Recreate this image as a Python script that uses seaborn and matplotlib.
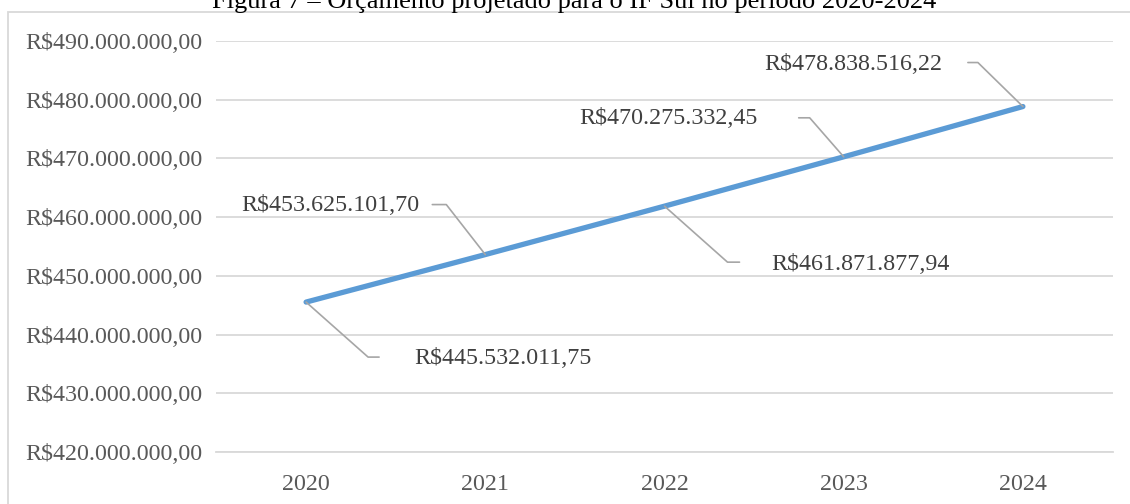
import matplotlib
matplotlib.use("Agg")
import matplotlib.pyplot as plt
import matplotlib.patches as patches
from matplotlib.ticker import FuncFormatter, MultipleLocator
from matplotlib.lines import Line2D
import pandas as pd
import seaborn as sns

# dados do gráfico
anos = ["2020", "2021", "2022", "2023", "2024"]
orcamento = [445532011.75, 453625101.70, 461871877.94, 470275332.45, 478838516.22]
titulo = "Figura 7 – Orçamento projetado para o IF Sul no período 2020-2024"

# deslocamentos dos rótulos (pixels: cotovelo, fim da linha guia, texto, alinhamento)
guias = [
    ((62, -55), (73, -55), (108, -56), "left"),
    ((-39, 50), (-53, 50), (-66, 49), "right"),
    ((63, -56), (75, -56), (107, -58), "left"),
    ((-34, 39), (-45, 39), (-86, 38), "right"),
    ((-45, 44), (-55, 44), (-81, 42), "right"),
]


def moeda(v, pos=None):
    s = f"{v:,.2f}"
    s = s.replace(",", "X").replace(".", ",").replace("X", ".")
    return "R$" + s


sns.set_theme(style="white")
plt.rcParams["font.family"] = ["Liberation Serif", "DejaVu Serif"]

W, H = 1130, 504
fs = 17.3
fig = plt.figure(figsize=(W / 100, H / 100), dpi=100)
ax = fig.add_axes([216.5 / W, 1 - 452 / H, 896 / W, 411 / H])

df = pd.DataFrame({"ano": anos, "valor": orcamento})
sns.lineplot(data=df, x="ano", y="valor", ax=ax, color="#5B9BD5",
             linewidth=3.8, solid_capstyle="round", sort=False)

ax.set_xlim(-0.5, len(anos) - 0.5)
ax.set_ylim(420e6, 490e6)
ax.yaxis.set_major_locator(MultipleLocator(10e6))
ax.yaxis.set_major_formatter(FuncFormatter(moeda))
ax.grid(axis="y", color="#d9d9d9", linewidth=1.3)
ax.grid(axis="x", visible=False)
ax.set_axisbelow(True)
for lado in ["top", "right", "left"]:
    ax.spines[lado].set_visible(False)
ax.spines["bottom"].set_color("#d9d9d9")
ax.spines["bottom"].set_linewidth(1.3)
ax.set_xlabel("")
ax.set_ylabel("")
ax.tick_params(axis="y", length=0, pad=10, labelsize=fs, labelcolor="#595959")
ax.tick_params(axis="x", length=0, pad=16, labelsize=fs, labelcolor="#595959")

# rótulos com linhas guia
fig.canvas.draw()
for i, (v, (cot, fim, txt, ha)) in enumerate(zip(orcamento, guias)):
    px, py = ax.transData.transform((i, v))
    xs = [px, px + cot[0], px + fim[0]]
    ys = [py, py + cot[1], py + fim[1]]
    fig.add_artist(Line2D(xs, ys, transform=None, color="#a6a6a6", linewidth=1.2))
    fig.text((px + txt[0]) / W, (py + txt[1]) / H, moeda(v), ha=ha, va="center",
             fontsize=fs, color="#404040")

# moldura e título
fig.add_artist(patches.Rectangle((8 / W, -0.1), 1.1, 1.1 - 12 / H,
                                 transform=fig.transFigure, fill=False,
                                 edgecolor="#d9d9d9", linewidth=1.3))
fig.text(574 / W, 1 - 8 / H, titulo, ha="center", va="baseline",
         fontsize=19, color="black")

fig.savefig("out.png", dpi=100)
